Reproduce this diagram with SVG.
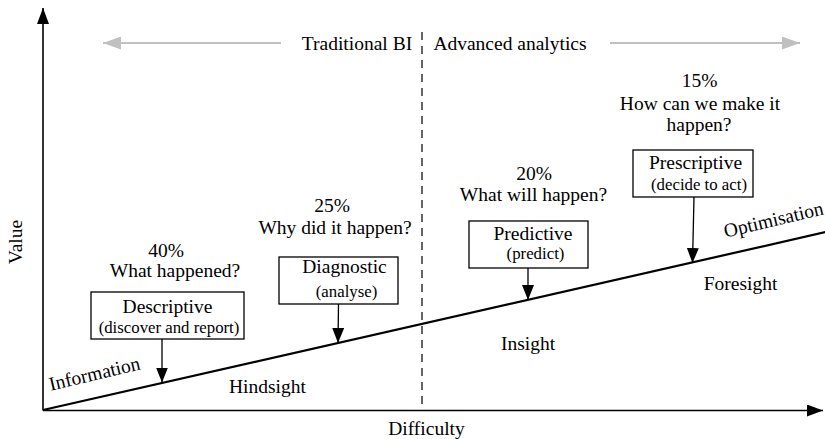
<svg xmlns="http://www.w3.org/2000/svg" width="825" height="439" viewBox="0 0 825 439">
  <defs>
    <style>
      .lbl { font-size: 19.5px; text-anchor: middle; }
      .sub { font-size: 16.8px; text-anchor: middle; }
      .box { fill: #fff; stroke: #000; stroke-width: 1.3; }
      .stem { stroke: #000; stroke-width: 1.3; fill: none; }
      .axis { stroke: #000; stroke-width: 1.6; fill: none; }
      .trend { stroke: #000; stroke-width: 2.2; fill: none; }
      .era { stroke: #c0c0c0; stroke-width: 2; fill: none; }
      .divider { stroke: #000; stroke-width: 1.2; stroke-dasharray: 8 6; fill: none; }
    </style>
    <marker id="head" markerUnits="userSpaceOnUse" markerWidth="15" markerHeight="12" refX="15" refY="6" orient="auto">
      <path d="M0,0 L15,6 L0,12 z" fill="#000"/>
    </marker>
    <marker id="axisHead" markerUnits="userSpaceOnUse" markerWidth="16" markerHeight="12" refX="16" refY="6" orient="auto">
      <path d="M0,0 L16,6 L0,12 z" fill="#000"/>
    </marker>
    <marker id="eraHead" markerUnits="userSpaceOnUse" markerWidth="18" markerHeight="13" refX="18" refY="6.5" orient="auto">
      <path d="M0,0 L18,6.5 L0,13 z" fill="#c0c0c0"/>
    </marker>
  </defs>

  <rect width="825" height="439" fill="#fff"/>

  <!-- axes, trend line, era divider and era arrows -->
  <g id="connectors">
    <line class="axis" x1="43" y1="410.5" x2="43" y2="8" marker-end="url(#axisHead)"/>
    <line class="axis" x1="43" y1="410.5" x2="823" y2="410.5" marker-end="url(#axisHead)"/>
    <line class="trend" x1="43" y1="410" x2="826" y2="232"/>
    <line class="divider" x1="422" y1="32" x2="422" y2="410"/>
    <line class="era" x1="281" y1="43" x2="103" y2="43" marker-end="url(#eraHead)"/>
    <line class="era" x1="610" y1="43" x2="800" y2="43" marker-end="url(#eraHead)"/>
    <line class="stem" x1="162" y1="339" x2="162" y2="382.5" marker-end="url(#head)"/>
    <line class="stem" x1="338.5" y1="304" x2="338" y2="343" marker-end="url(#head)"/>
    <line class="stem" x1="528" y1="268" x2="528" y2="300" marker-end="url(#head)"/>
    <line class="stem" x1="694" y1="197" x2="692.5" y2="263" marker-end="url(#head)"/>
  </g>

  <g font-family="'Liberation Serif', 'Times New Roman', Times, serif" fill="#000">
    <!-- axis and era labels -->
    <g id="axis-labels">
      <text class="lbl" transform="translate(22,242) rotate(-90)">Value</text>
      <text class="lbl" x="426.5" y="435">Difficulty</text>
      <text class="lbl" x="357" y="50">Traditional BI</text>
      <text class="lbl" x="510" y="50">Advanced analytics</text>
    </g>

    <!-- regions along the trend line -->
    <g id="regions">
      <text class="lbl" transform="translate(96,380) rotate(-13.4)">Information</text>
      <text class="lbl" x="267.5" y="392.5">Hindsight</text>
      <text class="lbl" x="528" y="350">Insight</text>
      <text class="lbl" x="740.5" y="290">Foresight</text>
      <text class="lbl" transform="translate(775,226) rotate(-13.4)">Optimisation</text>
    </g>

    <g id="descriptive">
      <text class="lbl" x="166" y="257">40%</text>
      <text class="lbl" x="175" y="276.5">What happened?</text>
      <rect class="box" x="91" y="292" width="153" height="47"/>
      <text class="lbl" x="167.5" y="312.5">Descriptive</text>
      <text class="sub" x="169" y="333">(discover and report)</text>
    </g>

    <g id="diagnostic">
      <text class="lbl" x="332" y="211.5">25%</text>
      <text class="lbl" x="335" y="234">Why did it happen?</text>
      <rect class="box" x="279" y="257" width="119" height="47"/>
      <text class="lbl" x="344.5" y="273">Diagnostic</text>
      <text class="sub" x="346.5" y="296.5">(analyse)</text>
    </g>

    <g id="predictive">
      <text class="lbl" x="534" y="180">20%</text>
      <text class="lbl" x="533.5" y="201">What will happen?</text>
      <rect class="box" x="469" y="221" width="119" height="47"/>
      <text class="lbl" x="533" y="240">Predictive</text>
      <text class="sub" x="535.5" y="259">(predict)</text>
    </g>

    <g id="prescriptive">
      <text class="lbl" x="699.5" y="86.5">15%</text>
      <text class="lbl" x="700" y="109.5">How can we make it</text>
      <text class="lbl" x="699" y="130.5">happen?</text>
      <rect class="box" x="633" y="150" width="120" height="47"/>
      <text class="lbl" x="695.5" y="169">Prescriptive</text>
      <text class="sub" x="699" y="190">(decide to act)</text>
    </g>
  </g>
</svg>
